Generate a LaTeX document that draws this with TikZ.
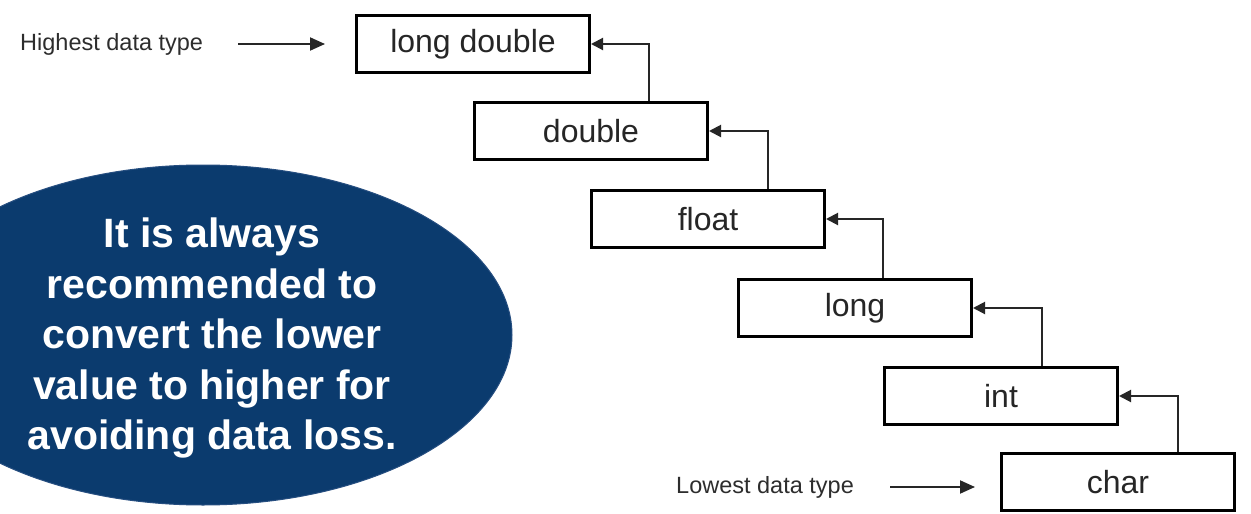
\documentclass[tikz,border=0pt]{standalone}
\usepackage{fontspec}
\setmainfont{Liberation Sans}
\usetikzlibrary{shapes.geometric,arrows.meta}
\definecolor{navy}{RGB}{11,59,110}
\definecolor{navyedge}{RGB}{38,78,128}
\definecolor{labelgray}{RGB}{45,45,45}
\begin{document}
\begin{tikzpicture}[x=1pt,y=-1pt,
  typebox/.style={draw=black,line width=3pt,fill=white,minimum width=233pt,
    minimum height=57pt,inner sep=0pt,text=black!85,
    font=\fontsize{32}{36}\selectfont},
  link/.style={line width=2pt,draw=black!85,-{Triangle[length=12pt,width=12pt]}},
  pointer/.style={line width=2pt,draw=black!85,-{Triangle[length=15pt,width=13pt]}},
  sidelabel/.style={inner sep=0pt,text=labelgray,font=\fontsize{23.5}{28}\selectfont},
  bubble/.style={ellipse,fill=navy,draw=navyedge,line width=1pt,
    minimum width=618pt,minimum height=340pt,inner sep=0pt},
  bubbletext/.style={align=center,text=white,inner sep=0pt,
    font=\fontsize{41}{50.5}\selectfont\bfseries}]
\useasboundingbox (0,0) rectangle (1251,514);
\clip (0,0) rectangle (1251,514);
\fill[white] (0,0) rectangle (1251,514);

% type boxes, from highest to lowest rank
\node[typebox] (ld) at (473,44)  {long double};
\node[typebox] (db) at (591,131) {double};
\node[typebox] (fl) at (708,219) {float};
\node[typebox] (lg) at (855,308) {long};
\node[typebox] (in) at (1001,396) {int};
\node[typebox] (ch) at (1118,482) {char};

% promotion arrows: each type points up to the next higher one
\draw[link] ([xshift=58pt]db.north) |- (ld.east);
\draw[link] ([xshift=60pt]fl.north) |- (db.east);
\draw[link] ([xshift=28pt]lg.north) |- (fl.east);
\draw[link] ([xshift=41pt]in.north) |- (lg.east);
\draw[link] ([xshift=60pt]ch.north) |- (in.east);

% end labels
\node[sidelabel,anchor=west] (hi) at (20,44) {Highest data type};
\coordinate (hiend) at ([xshift=-30pt]ld.west);
\draw[pointer] (hi.east -| 238,0) -- (hiend);

\node[sidelabel,anchor=west] (lo) at (676,487) {Lowest data type};
\coordinate (loend) at ([xshift=-25pt]ch.west |- lo.east);
\draw[pointer] (lo.east -| 890,0) -- (loend);

% note bubble
\node[bubble] (note) at (203,335) {};
\node[bubbletext] (notetext) at (212,338)
  {It is always\\recommended to\\convert the lower\\value to higher for\\avoiding data loss.};
\end{tikzpicture}
\end{document}
